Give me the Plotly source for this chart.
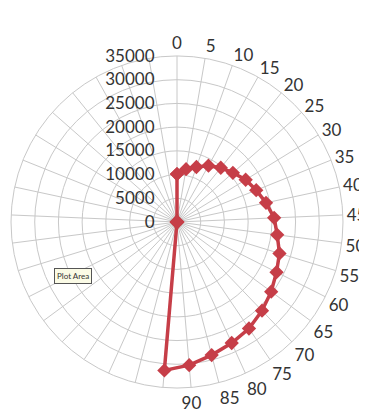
import plotly.graph_objects as go

# category axis: 37 categories (0..180 step 5); only 0..90 are labelled
categories = ["0", "5", "10", "15", "20", "25", "30", "35", "40", "45",
              "50", "55", "60", "65", "70", "75", "80", "85", "90", "95",
              "100", "105", "110", "115", "120", "125", "130", "135", "140",
              "145", "150", "155", "160", "165", "170", "175", "180"]
tick_labels = ["0", "5", "10", "15", "20", "25", "30", "35", "40", "45",
               "50", "55", "60", "65", "70", "75", "80", "85", "90", "",
               "", "", "", "", "", "", "", "", "",
               "", "", "", "", "", "", "", ""]
values = [10100, 11300, 12300, 13600, 14700, 15700, 17000, 18000, 19200, 20500,
          21300, 22600, 23500, 24700, 25900, 27100, 28000, 29000, 30300, 31400,
          0, 0, 0, 0, 0, 0, 0, 0, 0,
          0, 0, 0, 0, 0, 0, 0, 0]
radial_ticks = [0, 5000, 10000, 15000, 20000, 25000, 30000, 35000]

red = "#c63e48"
grid = "#c8c8c8"
font = "Lato"
text_col = "#333333"

fig = go.Figure()
fig.add_trace(go.Scatterpolar(
    r=values + values[:1],
    theta=categories + categories[:1],
    mode="lines+markers",
    line=dict(color=red, width=3.5),
    marker=dict(symbol="diamond", size=11, color=red),
    showlegend=False,
    hoverinfo="skip",
))

fig.update_layout(
    width=359, height=404,
    margin=dict(l=3, r=24, t=48, b=24),
    paper_bgcolor="white",
    font=dict(family=font, size=16, color=text_col),
    polar=dict(
        bgcolor="white",
        domain=dict(x=[0, 1], y=[0, 1]),
        angularaxis=dict(
            type="category",
            categoryorder="array",
            categoryarray=categories,
            direction="clockwise",
            rotation=90,
            tickmode="array",
            tickvals=categories,
            ticktext=tick_labels,
            showgrid=True,
            gridcolor=grid,
            gridwidth=1,
            showline=True,
            linecolor=grid,
            linewidth=1,
            ticks="",
            tickfont=dict(family=font, size=17, color=text_col),
        ),
        radialaxis=dict(
            range=[0, 35000],
            tickmode="array",
            tickvals=radial_ticks,
            ticktext=[str(v) for v in radial_ticks],
            angle=90,
            side="counterclockwise",
            tickangle=90,
            showline=False,
            showgrid=True,
            gridcolor=grid,
            gridwidth=1,
            ticks="outside",
            ticklen=16,
            tickcolor="rgba(0,0,0,0)",
            tickfont=dict(family=font, size=17, color=text_col),
        ),
    ),
    annotations=[dict(
        text="Plot Area", xref="paper", yref="paper",
        x=(54 - 8) / 359, y=1 - (276 - 8) / 404,
        showarrow=False,
        font=dict(family=font, size=8, color="#333333"),
        bgcolor="#fbfbe6", bordercolor="#555555", borderwidth=1, borderpad=2,
    )],
)

fig.write_html("out.html")
